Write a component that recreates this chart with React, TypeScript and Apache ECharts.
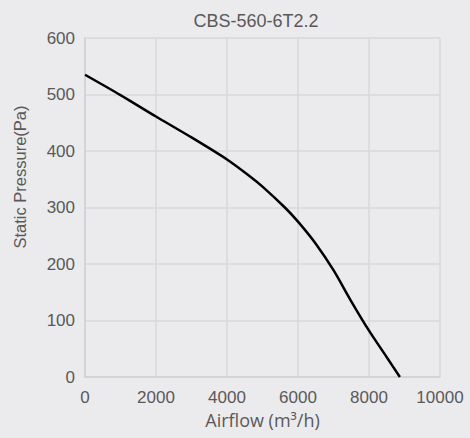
import React, { useEffect, useRef } from "react";
import * as echarts from "echarts";

const airflow = [0, 1000, 2000, 3000, 4000, 4650, 5000, 5630, 6000, 6500, 7000, 7500, 8000, 8500, 8870];
const pressure = [535, 499, 461, 424, 385, 355, 337, 300, 275, 236, 189, 134, 82, 35, 0];
const title = "CBS-560-6T2.2";
const xName = "Airflow (m³/h)";
const yName = "Static Pressure(Pa)";

export default function App() {
  const ref = useRef<HTMLDivElement>(null);
  useEffect(() => {
    const chart = echarts.init(ref.current!, null, { renderer: "svg" });
    const data = airflow.map((x, i) => [x, pressure[i]]);
    chart.setOption({
      animation: false,
      backgroundColor: "#ebebed",
      title: {
        text: title,
        left: 251,
        top: 7,
        textAlign: "center",
        textStyle: { fontFamily: "Liberation Sans", fontSize: 18, fontWeight: "normal", color: "#595959" },
      },
      grid: { left: 85, right: 30, top: 38, bottom: 61, containLabel: false },
      xAxis: {
        type: "value",
        min: 0,
        max: 10000,
        interval: 2000,
        name: xName,
        nameLocation: "middle",
        nameGap: 34,
        nameTextStyle: { fontFamily: "Open Sans", fontSize: 18, color: "#595959" },
        axisLine: { show: true, lineStyle: { color: "#d0d0d0", width: 1.5 } },
        axisTick: { show: false },
        axisLabel: {
          margin: 12,
          fontFamily: "Liberation Sans",
          fontSize: 17,
          color: "#595959",
          formatter: (v: number) => String(v),
        },
        splitLine: { show: true, lineStyle: { color: "#d9d9d9", width: 1.5 } },
      },
      yAxis: {
        type: "value",
        min: 0,
        max: 600,
        interval: 100,
        axisLine: { show: true, lineStyle: { color: "#d0d0d0", width: 1.5 } },
        axisTick: { show: false },
        axisLabel: {
          margin: 10,
          fontFamily: "Liberation Sans",
          fontSize: 17,
          color: "#595959",
          formatter: (v: number) => String(v),
        },
        splitLine: { show: true, lineStyle: { color: "#d9d9d9", width: 1.5 } },
      },
      graphic: [
        {
          type: "text",
          x: 20,
          y: 177,
          rotation: Math.PI / 2,
          style: {
            text: yName,
            fontFamily: "Liberation Sans",
            fontSize: 16.5,
            fill: "#595959",
            align: "center",
            verticalAlign: "middle",
          },
        },
      ],
      series: [
        {
          type: "line",
          data,
          smooth: 0.25,
          showSymbol: false,
          lineStyle: { color: "#000", width: 2.5 },
        },
      ],
    });
    return () => chart.dispose();
  }, []);
  return (
    <div
      ref={ref}
      style={{ position: "absolute", left: 0, top: 0, width: 470, height: 438 }}
    />
  );
}
